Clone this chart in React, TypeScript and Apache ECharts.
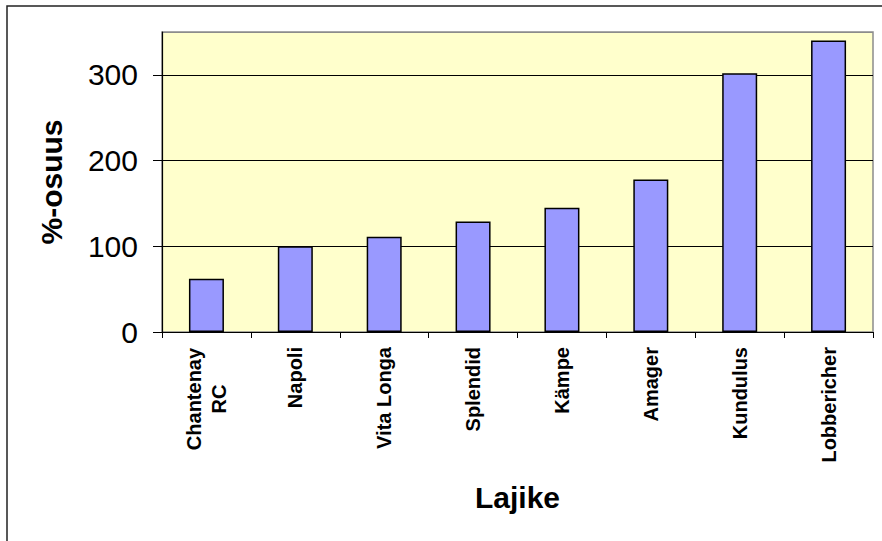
import React, { useEffect, useRef } from "react";
import * as echarts from "echarts";

const categories: string[] = [
  "Chantenay\nRC",
  "Napoli",
  "Vita Longa",
  "Splendid",
  "Kämpe",
  "Amager",
  "Kundulus",
  "Lobbericher",
];
const values: number[] = [62, 100, 111, 129, 145, 178, 302, 340];
const yTicks = { min: 0, max: 350, interval: 100 };
const xName = "Lajike";
const yName = "%-osuus";

const FONT = "'Liberation Sans', Arial, Helvetica, sans-serif";

export default function App() {
  const ref = useRef<HTMLDivElement>(null);
  useEffect(() => {
    if (!ref.current) return;
    const chart = echarts.init(ref.current, undefined, { renderer: "svg" });
    chart.setOption({
      animation: false,
      backgroundColor: "#ffffff",
      graphic: [
        {
          type: "rect",
          shape: { x: 7, y: 6, width: 950, height: 620 },
          style: { fill: "none", stroke: "#222222", lineWidth: 1.5 },
          silent: true,
          z: 100,
        },
      ],
      grid: {
        left: 162,
        top: 32,
        right: 9,
        bottom: 209,
        show: true,
        backgroundColor: "#FFFFCC",
        borderColor: "#8c8c8c",
        borderWidth: 1.5,
      },
      xAxis: {
        type: "category",
        data: categories,
        name: xName,
        nameLocation: "middle",
        nameGap: 150,
        nameTextStyle: {
          fontFamily: FONT,
          fontWeight: "bold",
          fontSize: 30,
          color: "#000",
        },
        axisLine: { show: true, lineStyle: { color: "#000", width: 1.2 } },
        axisTick: {
          show: true,
          length: 6,
          alignWithLabel: false,
          lineStyle: { color: "#000", width: 1 },
        },
        axisLabel: {
          interval: 0,
          rotate: 90,
          margin: 15,
          fontFamily: FONT,
          fontWeight: "bold",
          fontSize: 20,
          lineHeight: 25,
          color: "#000",
          formatter: (v: string) => {
            if (v.indexOf("\n") >= 0) {
              return v
                .split("\n")
                .map((s) => "{c|" + s + "}")
                .join("\n");
            }
            return v;
          },
          rich: {
            c: {
              width: 104,
              align: "center",
              fontFamily: FONT,
              fontWeight: "bold",
              fontSize: 20,
              lineHeight: 25,
              color: "#000",
            },
          },
        },
        splitLine: { show: false },
      },
      yAxis: {
        type: "value",
        min: yTicks.min,
        max: yTicks.max,
        interval: yTicks.interval,
        name: yName,
        nameLocation: "middle",
        nameGap: 96,
        nameRotate: 90,
        nameTextStyle: {
          fontFamily: FONT,
          fontWeight: "bold",
          fontSize: 30,
          color: "#000",
        },
        axisLine: { show: true, lineStyle: { color: "#000", width: 1.2 } },
        axisTick: { show: true, length: 9, lineStyle: { color: "#000", width: 1 } },
        axisLabel: {
          margin: 24,
          fontFamily: FONT,
          fontSize: 30,
          color: "#000",
          showMaxLabel: false,
          formatter: (v: number) => (v % yTicks.interval === 0 ? String(v) : ""),
        },
        splitLine: {
          show: true,
          lineStyle: {
            color: ["#000", "#000", "#000", "#000", "#8c8c8c"],
            width: 1,
          },
        },
      },
      series: [
        {
          type: "bar",
          data: values,
          barWidth: 35,
          itemStyle: {
            color: "#9999FF",
            borderColor: "#000",
            borderWidth: 1.5,
          },
        },
      ],
    });
    return () => chart.dispose();
  }, []);
  return (
    <div
      ref={ref}
      style={{ position: "fixed", left: 0, top: 0, width: 882, height: 541 }}
    />
  );
}
